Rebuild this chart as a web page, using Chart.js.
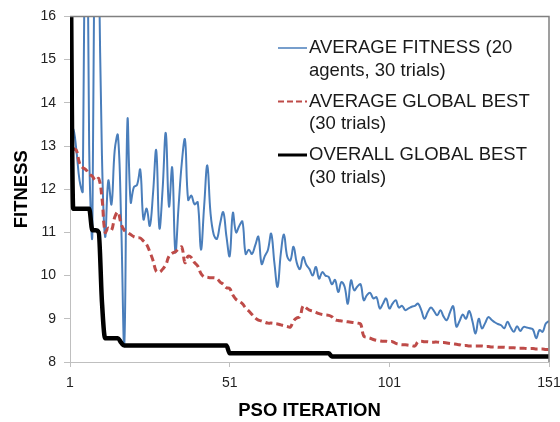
<!DOCTYPE html>
<html>
<head>
<meta charset="utf-8">
<title>PSO fitness</title>
<script src="https://cdn.jsdelivr.net/npm/chart.js@4.4.1/dist/chart.umd.min.js"></script>
<style>
  html, body { margin: 0; padding: 0; background: #fff; }
  #wrap { position: relative; width: 560px; height: 422px; }
</style>
</head>
<body>
<div id="wrap"><canvas id="psoChart"></canvas></div>
<script>
// average fitness of the swarm, one value per PSO iteration (1..151)
const avgFitness = [
  13.0, 13.4, 12.9, 12.2, 11.95, 24, 13.0, 10.95, 22, 17.5,
  12.8, 10.9, 12.2, 11.65, 12.9, 13.25, 11.3, 8.4, 13.6, 11.7,
  12.05, 12.1, 12.45, 11.3, 11.55, 11.15, 11.9, 12.9, 11.1, 12.0,
  13.3, 11.6, 12.5, 10.55, 11.6, 12.6, 13.15, 11.75, 11.85, 11.65,
  11.7, 10.6, 11.6, 12.55, 11.45, 10.95, 10.85, 11.2, 11.47, 10.9,
  10.45, 11.45, 11.0, 11.15, 11.25, 10.5, 10.6, 10.5, 10.7, 10.9,
  10.27, 10.45, 10.6, 10.97, 10.3, 9.74, 10.5, 10.95, 10.45, 10.35,
  10.67, 10.3, 10.15, 10.43, 10.25, 10.15, 10.0, 10.2, 9.93, 10.08,
  10.0, 9.97, 9.8, 9.9, 9.62, 9.85, 9.74, 9.35, 9.89, 9.66,
  9.75, 9.8, 9.43, 9.55, 9.6, 9.47, 9.5, 9.24, 9.35, 9.47,
  9.24, 9.35, 9.43, 9.26, 9.3, 9.2, 9.24, 9.28, 9.3, 9.35,
  9.2, 9.0, 9.15, 9.26, 9.18, 9.08, 9.2, 9.05, 8.97, 9.15,
  9.29, 8.82, 8.95, 9.1, 9.0, 9.18, 8.95, 8.66, 9.0, 8.78,
  8.9, 9.04, 8.98, 8.92, 8.88, 8.85, 8.78, 8.93, 8.8, 8.7,
  8.83, 8.72, 8.81, 8.8, 8.78, 8.75, 8.55, 8.74, 8.7, 8.89,
  8.95
];

// global best averaged over the trials
const avgGlobalBest = [
  13.2, 12.95, 12.9, 12.6, 12.5, 12.45, 12.35, 12.3, 12.2, 12.25,
  11.8, 11.0, 11.1, 11.05, 11.35, 11.47, 11.2, 11.05, 11.0, 10.95,
  10.9, 10.88, 10.87, 10.8, 10.72, 10.55, 10.35, 10.1, 10.08, 10.15,
  10.25, 10.45, 10.52, 10.55, 10.62, 10.66, 10.3, 10.45, 10.42, 10.3,
  10.22, 10.05, 9.97, 9.96, 9.95, 9.95, 9.93, 9.85, 9.8, 9.72,
  9.7, 9.55, 9.45, 9.4, 9.35, 9.25, 9.18, 9.1, 9.02, 8.97,
  8.95, 8.92, 8.9, 8.9, 8.89, 8.88, 8.86, 8.84, 8.82, 8.81,
  8.95, 9.02, 9.05, 9.3, 9.25, 9.2, 9.18, 9.15, 9.12, 9.1,
  9.09, 9.08, 9.05, 8.98, 8.96, 8.95, 8.94, 8.93, 8.92, 8.91,
  8.9, 8.88, 8.6, 8.57, 8.55, 8.52, 8.5, 8.49, 8.48, 8.48,
  8.47, 8.47, 8.43, 8.41, 8.4, 8.4, 8.39, 8.38, 8.37, 8.47,
  8.48, 8.47, 8.47, 8.46, 8.46, 8.46, 8.45, 8.45, 8.44, 8.43,
  8.42, 8.41, 8.4, 8.38, 8.38, 8.37, 8.37, 8.37, 8.37, 8.37,
  8.36, 8.36, 8.35, 8.35, 8.34, 8.34, 8.34, 8.33, 8.33, 8.33,
  8.32, 8.32, 8.32, 8.31, 8.31, 8.31, 8.3, 8.3, 8.3, 8.29,
  8.29
];

// best value found in any trial
const overallGlobalBest = [
  20, 11.55, 11.55, 11.55, 11.55, 11.55, 11.55, 11.05, 11.05, 11.0,
  9.4, 8.55, 8.55, 8.55, 8.55, 8.55, 8.45, 8.38, 8.38, 8.38,
  8.38, 8.38, 8.38, 8.38, 8.38, 8.38, 8.38, 8.38, 8.38, 8.38,
  8.38, 8.38, 8.38, 8.38, 8.38, 8.38, 8.38, 8.38, 8.38, 8.38,
  8.38, 8.38, 8.38, 8.38, 8.38, 8.38, 8.38, 8.38, 8.38, 8.38,
  8.2, 8.2, 8.2, 8.2, 8.2, 8.2, 8.2, 8.2, 8.2, 8.2,
  8.2, 8.2, 8.2, 8.2, 8.2, 8.2, 8.2, 8.2, 8.2, 8.2,
  8.2, 8.2, 8.2, 8.2, 8.2, 8.2, 8.2, 8.2, 8.2, 8.2,
  8.2, 8.2, 8.13, 8.13, 8.13, 8.13, 8.13, 8.13, 8.13, 8.13,
  8.13, 8.13, 8.13, 8.13, 8.13, 8.13, 8.13, 8.13, 8.13, 8.13,
  8.13, 8.13, 8.13, 8.13, 8.13, 8.13, 8.13, 8.13, 8.13, 8.13,
  8.13, 8.13, 8.13, 8.13, 8.13, 8.13, 8.13, 8.13, 8.13, 8.13,
  8.13, 8.13, 8.13, 8.13, 8.13, 8.13, 8.13, 8.13, 8.13, 8.13,
  8.13, 8.13, 8.13, 8.13, 8.13, 8.13, 8.13, 8.13, 8.13, 8.13,
  8.13, 8.13, 8.13, 8.13, 8.13, 8.13, 8.13, 8.13, 8.13, 8.13,
  8.13
];

const xTicks = [1, 51, 101, 151];
const yMin = 8, yMax = 16, yStep = 1;
const seriesLabels = [
  ['AVERAGE FITNESS (20', 'agents, 30 trials)'],
  ['AVERAGE GLOBAL BEST', '(30 trials)'],
  ['OVERALL GLOBAL BEST', '(30 trials)']
];
const xTitle = 'PSO ITERATION';
const yTitle = 'FITNESS';

const FONT = '"Liberation Sans", Arial, sans-serif';

function toPoints(values) {
  return values.map((v, i) => ({ x: i + 1, y: v }));
}

// legend drawn inside the plot, plus the top/right frame lines
const plotExtras = {
  id: 'plotExtras',
  afterDraw(chart) {
    const ctx = chart.ctx;
    const area = chart.chartArea;
    ctx.save();

    ctx.strokeStyle = '#808080';
    ctx.lineWidth = 1.5;
    ctx.beginPath();
    ctx.moveTo(area.left, area.top);
    ctx.lineTo(area.right, area.top);
    ctx.lineTo(area.right, area.bottom);
    ctx.stroke();

    const rows = [48, 101.5, 155];
    const lineGap = 22.5;
    const sampleStyles = [
      { color: '#4a7ebb', width: 1.5, dash: [] },
      { color: '#be4b48', width: 1.8, dash: [6, 3] },
      { color: '#000000', width: 3, dash: [] }
    ];
    ctx.font = '18.5px ' + FONT;
    ctx.fillStyle = '#1a1a1a';
    ctx.textBaseline = 'middle';
    ctx.textAlign = 'left';
    seriesLabels.forEach((lines, i) => {
      const y = rows[i];
      const s = sampleStyles[i];
      ctx.strokeStyle = s.color;
      ctx.lineWidth = s.width;
      ctx.setLineDash(s.dash);
      ctx.beginPath();
      ctx.moveTo(278, y);
      ctx.lineTo(307, y);
      ctx.stroke();
      ctx.setLineDash([]);
      lines.forEach((t, j) => ctx.fillText(t, 309, y + j * lineGap));
    });
    ctx.restore();
  }
};

const ctx = document.getElementById('psoChart').getContext('2d');
new Chart(ctx, {
  type: 'line',
  data: {
    datasets: [
      {
        label: seriesLabels[0].join(' '),
        data: toPoints(avgFitness),
        borderColor: '#4a7ebb',
        borderWidth: 2,
        tension: 0.4,
        pointRadius: 0,
        order: 3
      },
      {
        label: seriesLabels[1].join(' '),
        data: toPoints(avgGlobalBest),
        borderColor: '#be4b48',
        borderWidth: 3,
        borderDash: [7, 4],
        tension: 0.4,
        pointRadius: 0,
        order: 2
      },
      {
        label: seriesLabels[2].join(' '),
        data: toPoints(overallGlobalBest),
        borderColor: '#000000',
        borderWidth: 4.5,
        cubicInterpolationMode: 'monotone',
        pointRadius: 0,
        order: 1
      }
    ]
  },
  options: {
    responsive: true,
    maintainAspectRatio: false,
    animation: false,
    events: [],
    layout: { padding: { top: 15, right: 11, left: 0, bottom: 0 } },
    plugins: {
      legend: { display: false },
      tooltip: { enabled: false }
    },
    scales: {
      x: {
        type: 'linear',
        min: xTicks[0],
        max: xTicks[xTicks.length - 1],
        afterBuildTicks: axis => { axis.ticks = xTicks.map(v => ({ value: v })); },
        afterFit: scale => { scale.height = 60; scale.paddingLeft = 0; scale.paddingRight = 0; },
        grid: { drawOnChartArea: false, drawTicks: true, tickLength: 5, color: '#bfbfbf' },
        border: { color: '#bfbfbf', width: 1 },
        ticks: { color: '#222', font: { family: FONT, size: 14 }, padding: 8, maxRotation: 0 },
        title: {
          display: true,
          text: xTitle,
          color: '#000',
          font: { family: FONT, size: 18.5, weight: 'bold' },
          padding: { top: 0, bottom: 0 }
        }
      },
      y: {
        min: yMin,
        max: yMax,
        afterFit: scale => { scale.width = 70; },
        grid: { drawOnChartArea: false, drawTicks: true, tickLength: 6, color: '#bfbfbf' },
        border: { color: '#bfbfbf', width: 1 },
        ticks: { stepSize: yStep, color: '#222', font: { family: FONT, size: 14 }, padding: 8 },
        title: {
          display: true,
          text: yTitle,
          color: '#000',
          font: { family: FONT, size: 18.5, weight: 'bold' },
          padding: { top: 10.5, bottom: 0 }
        }
      }
    }
  },
  plugins: [plotExtras]
});
</script>
</body>
</html>
